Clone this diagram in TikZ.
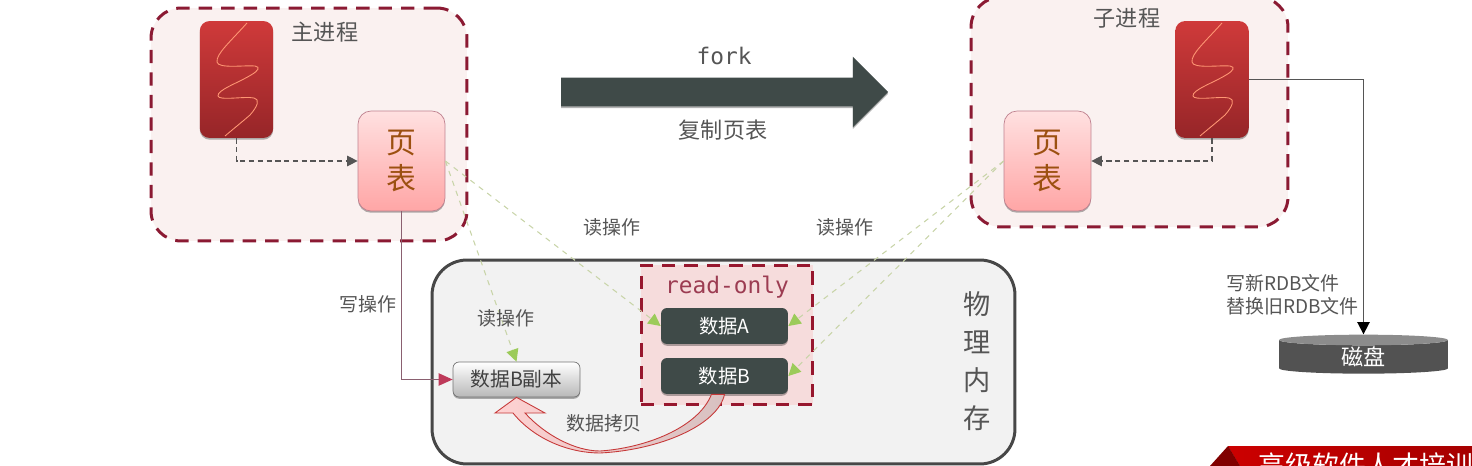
\documentclass[tikz,border=0pt]{standalone}
\usepackage{fontspec}
\setmainfont{Noto Sans CJK SC}
\setmonofont{DejaVu Sans Mono}
\usetikzlibrary{arrows.meta,shapes.geometric,shapes.arrows,shadows}
\definecolor{dashred}{HTML}{8B1A33}
\definecolor{labelgray}{HTML}{555555}
\definecolor{slate}{HTML}{3F4A48}
\definecolor{redtop}{HTML}{CF3A3A}
\definecolor{redbot}{HTML}{962528}
\definecolor{tipgreen}{HTML}{9CCB5A}
\definecolor{paleline}{HTML}{C8D4A8}
\definecolor{writeline}{HTML}{8A6070}
\definecolor{writetip}{HTML}{BE3A5A}
\tikzset{
  softshadow/.style={drop shadow={shadow xshift=0pt,shadow yshift=-1pt,opacity=.3,fill=black}},
  procbox/.style={draw=dashred,fill={rgb,255:red,250;green,241;blue,240},line width=1.7pt,dash pattern=on 7.6pt off 5.2pt,rounded corners=.6cm,inner sep=0},
  redblock/.style={draw=none,top color=redtop,bottom color=redbot,rounded corners=.2cm,minimum width=1.47cm,minimum height=2.34cm,inner sep=0,softshadow},
  tablebox/.style={draw=dashred!55!white,top color=red!12,bottom color=red!35,rounded corners=.26cm,minimum width=1.74cm,minimum height=2cm,inner sep=0,align=center,text={rgb,255:red,156;green,80;blue,16},font=\fontsize{17}{20.6}\selectfont,softshadow},
  databox/.style={fill=slate,rounded corners=.12cm,minimum width=2.54cm,minimum height=.72cm,inner sep=0,text=white,font=\fontsize{11}{13}\selectfont,softshadow},
  lbl/.style={text=labelgray,inner sep=0,font=\fontsize{10.8}{13}\selectfont},
  biglbl/.style={text=labelgray,inner sep=0,font=\fontsize{12.6}{15}\selectfont},
  monolbl/.style={inner sep=0,font=\ttfamily\fontsize{13}{15}\selectfont},
  dasharrow/.style={draw=labelgray,densely dashed,line width=.6pt,-{Triangle[length=6pt,width=6pt]}},
  readarrow/.style={draw=paleline,dashed,line width=.6pt,-{Triangle[length=7pt,width=7pt,color=tipgreen,fill=tipgreen]}},
}
\begin{document}
\begin{tikzpicture}[x=.02cm,y=-.02cm]
  \clip (0,0) rectangle (1472,466);
  % processes
  \node[procbox,minimum width=6.32cm,minimum height=4.66cm] (mainproc) at (309,124.5) {};
  \node[procbox,minimum width=6.34cm,minimum height=4.6cm] (childproc) at (1129.5,112) {};
  \node[redblock] (mainred) at (236.5,79.5) {};
  \node[redblock] (childred) at (1212,79.5) {};
  \foreach \dx in {0,975}
    \draw[red!50!orange!55!white,line width=.5pt,shift={(\dx,0)}] (247,23) .. controls (230,42) and (216,54) .. (217,62) .. controls (218,69) and (245,65) .. (255,66) .. controls (261,67) and (258,71) .. (251,75) .. controls (238,83) and (217,90) .. (218,96) .. controls (219,101) and (245,96) .. (254,98) .. controls (260,99) and (258,106) .. (250,115) .. controls (242,122) and (232,130) .. (225,136);
  \node[tablebox] (maintable) at (401.5,161) {页\\表};
  \node[tablebox] (childtable) at (1047.5,161) {页\\表};
  \node[biglbl] (mainname) at (325,32) {主进程};
  \node[biglbl] (childname) at (1127,18) {子进程};
  % fork
  \node[single arrow,fill=slate,inner sep=0,minimum height=6.54cm,minimum width=1.4cm,single arrow head extend=.42cm,softshadow] (forkarrow) at (717.5,92) {\rule{0pt}{.56cm}};
  \node[monolbl,text=labelgray] (forkname) at (724,56) {fork};
  \node[biglbl] (copyname) at (723,130) {复制页表};
  % physical memory
  \node[draw=black!72,fill=black!5,line width=1.7pt,rounded corners=.7cm,minimum width=11.66cm,minimum height=4.08cm,inner sep=0] (memory) at (723.5,362) {};
  \node[text=labelgray,inner sep=0,align=center,font=\fontsize{15.5}{21.5}\selectfont] (memname) at (977,361) {物\\理\\内\\存};
  \node[draw=dashred!90!red,fill={rgb,255:red,246;green,220;blue,220},line width=1.7pt,dash pattern=on 7.6pt off 5.2pt,minimum width=3.44cm,minimum height=2.8cm,inner sep=0] (readonly) at (727,335) {};
  \node[monolbl,text=dashred!85!white] (readname) at (727,287) {read-only};
  \node[databox] (dataa) at (724.5,326) {数据A};
  \node[databox] (datab) at (724.5,376) {数据B};
  \node[draw=black!55,top color=white,bottom color=black!28,rounded corners=.12cm,minimum width=2.54cm,minimum height=.7cm,inner sep=0,text=black!75,font=\fontsize{11.2}{13}\selectfont,softshadow] (bcopy) at (516.5,379.5) {数据B副本};
  % disk
  \node[cylinder,shape border rotate=90,aspect=.24,cylinder uses custom fill,cylinder body fill=black!68,cylinder end fill=black!45,minimum width=3.38cm,minimum height=.78cm,inner sep=0,text=white,font=\fontsize{12.6}{15}\selectfont] (disk) at (1363.5,357) {磁盘};
  % connectors
  \draw[dasharrow] (mainred.south) |- (maintable.west);
  \draw[dasharrow] (childred.south) |- (childtable.east);
  \draw[draw=writeline,line width=.8pt,-{Triangle[length=8pt,width=7pt,color=writetip,fill=writetip]}] (maintable.south) |- (bcopy.west);
  \draw[draw=labelgray,line width=1pt,-{Triangle[length=7pt,width=7pt,color=black,fill=black]}] (childred.east) -| (disk.north);
  \draw[readarrow] (maintable.east) -- (dataa.west);
  \draw[readarrow] (maintable.east) -- (bcopy.north);
  \draw[readarrow] (childtable.west) -- (dataa.east);
  \draw[readarrow] (childtable.west) -- (datab.east);
  % copy arrow
  \draw[draw=red!55!gray,left color=red!18,middle color=red!20,right color=red!22!gray!40,line width=.5pt]
    (datab.south) .. controls (718,425) and (660,450) .. (600,453) .. controls (570,453) and (535,440) .. (513,413)
    -- (495,413) -- (bcopy.south) -- (545,413) -- (525,413)
    .. controls (545,435) and (575,451) .. (600,451) .. controls (645,448) and (698,428) .. ([xshift=-.26cm]datab.south) -- cycle;
  % labels
  \node[lbl] (readone) at (612,227) {读操作};
  \node[lbl] (readtwo) at (845,227) {读操作};
  \node[lbl] (readthree) at (506,318) {读操作};
  \node[lbl] (writeop) at (368,304) {写操作};
  \node[lbl] (copyop) at (604,423) {数据拷贝};
  \node[lbl,anchor=west,align=left] (rdbnote) at (1226,295) {写新RDB文件\\替换旧RDB文件};
  % banner
  \fill[red!50!black] (1210,466) -- (1228,446) -- (1240,466) -- cycle;
  \fill[left color=red!80!black,right color=red!65!black] (1228,446) -- (1472,446) -- (1472,466) -- (1240,466) -- cycle;
  \node[text=white,inner sep=0,anchor=west,font=\fontsize{15.3}{18}\selectfont] (banner) at (1258,465) {高级软件人才培训};
\end{tikzpicture}
\end{document}
